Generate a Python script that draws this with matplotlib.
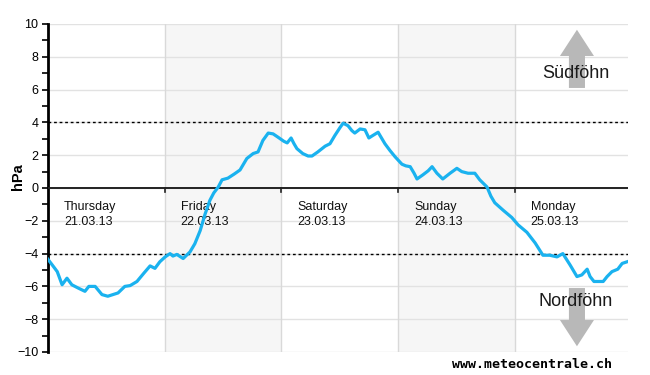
import matplotlib
matplotlib.use("Agg")
import matplotlib.pyplot as plt
from matplotlib.patches import FancyArrow
import numpy as np

# hours since Thursday 21.03.13 00:00
hours = [0.0, 1.4, 1.9, 2.9, 3.9, 4.9, 6.2, 7.6, 8.4, 9.7, 11.1, 12.3, 14.4, 15.8,
         16.9, 18.3, 19.7, 21.0, 22.0, 23.0, 24.1, 25.1, 25.7, 26.5, 27.8, 29.2,
         30.2, 31.3, 32.3, 33.3, 34.1, 35.0, 35.8, 37.0, 38.3, 39.5, 40.3, 40.9,
         42.2, 43.2, 44.2, 45.3, 46.3, 47.3, 48.5, 49.2, 50.0, 50.6, 51.2, 52.4,
         53.5, 54.3, 55.5, 57.0, 58.0, 59.0, 60.1, 60.7, 61.7, 62.5, 63.1, 64.2,
         65.2, 66.0, 66.8, 67.9, 68.7, 69.3, 70.3, 71.4, 72.8, 73.6, 74.5, 75.3,
         75.9, 77.1, 78.2, 79.0, 80.0, 81.2, 82.7, 84.1, 85.1, 86.4, 87.8, 88.8,
         90.3, 91.1, 91.9, 93.6, 95.4, 96.7, 98.5, 100.2, 101.8, 103.2, 104.7,
         105.9, 107.4, 108.8, 109.8, 110.9, 111.5, 112.3, 114.2, 115.0, 116.0,
         117.2, 118.1, 119.1]
pressure = [-4.35, -4.9, -5.1, -5.9, -5.5, -5.9, -6.1, -6.3, -6.0, -6.0, -6.5, -6.6,
            -6.4, -6.0, -5.95, -5.7, -5.2, -4.75, -4.9, -4.5, -4.2, -4.0, -4.15,
            -4.05, -4.3, -3.9, -3.4, -2.6, -1.6, -0.75, -0.3, 0.05, 0.5, 0.6, 0.85,
            1.1, 1.5, 1.8, 2.1, 2.2, 2.9, 3.35, 3.3, 3.1, 2.85, 2.75, 3.05, 2.7, 2.4,
            2.1, 1.95, 1.95, 2.2, 2.55, 2.7, 3.2, 3.7, 3.95, 3.8, 3.5, 3.35, 3.6,
            3.55, 3.05, 3.2, 3.4, 3.0, 2.7, 2.3, 1.9, 1.45, 1.35, 1.3, 0.9, 0.55,
            0.8, 1.05, 1.3, 0.9, 0.55, 0.9, 1.2, 1.0, 0.9, 0.9, 0.5, 0.06, -0.5,
            -0.9, -1.35, -1.8, -2.25, -2.7, -3.35, -4.1, -4.1, -4.2, -4.0, -4.7,
            -5.4, -5.3, -4.95, -5.4, -5.7, -5.7, -5.4, -5.1, -4.95, -4.6, -4.5]

day_names = ["Thursday", "Friday", "Saturday", "Sunday", "Monday"]
day_dates = ["21.03.13", "22.03.13", "23.03.13", "24.03.13", "25.03.13"]
shaded_days = [1, 3]
threshold = 4
y_ticks = list(range(-10, 11, 2))

fig = plt.figure(figsize=(6.5, 3.75), dpi=100)
ax = fig.add_axes([48/650, 1-352/375, (628-48)/650, (352-24)/375])
xmax = 119.3
ax.set_xlim(0, xmax)
ax.set_ylim(-10, 10)

for d in shaded_days:
    ax.axvspan(d*24, (d+1)*24, color="#f6f6f6", zorder=0, lw=0)
for yv in y_ticks:
    ax.axhline(yv, color="#e2e2e2", lw=1, zorder=1)
for d in range(1, 5):
    ax.axvline(d*24, color="#d9d9d9", lw=1, zorder=1)
    ax.plot([d*24, d*24], [0, -0.25], color="#222222", lw=1.2, zorder=3)

ax.axhline(0, color="#222222", lw=1.4, zorder=3)
ax.axhline(threshold, color="black", lw=1, ls=(0, (2, 2)), zorder=3)
ax.axhline(-threshold, color="black", lw=1, ls=(0, (2, 2)), zorder=3)

for i, (n, dt) in enumerate(zip(day_names, day_dates)):
    ax.text(i*24 + 3.3, -0.8, n + "\n" + dt, fontsize=9, va="top", ha="left",
            color="#111111", linespacing=1.35, zorder=4, family="Liberation Sans")

# Föhn arrows
ax.add_patch(FancyArrow(108.8, 6.1, 0, 3.55, width=3.3, head_width=7.0,
                        head_length=1.6, length_includes_head=True,
                        color="#b8b8b8", lw=0, zorder=2))
ax.add_patch(FancyArrow(108.8, -6.1, 0, -3.55, width=3.3, head_width=7.0,
                        head_length=1.6, length_includes_head=True,
                        color="#b8b8b8", lw=0, zorder=2))
ax.text(108.6, 7.0, "Südföhn", fontsize=13, ha="center", va="center",
        color="#1a1a1a", zorder=4, family="Liberation Sans")
ax.text(108.6, -6.95, "Nordföhn", fontsize=13, ha="center", va="center",
        color="#1a1a1a", zorder=4, family="Liberation Sans")

ax.plot(hours, pressure, color="#1ab2ef", lw=2.3, zorder=5, solid_joinstyle="round")

for s in ["top", "right", "bottom"]:
    ax.spines[s].set_visible(False)
ax.spines["left"].set_linewidth(2)
ax.spines["left"].set_color("black")
ax.set_xticks([])
ax.set_yticks(y_ticks)
ax.set_yticks(range(-9, 10, 2), minor=True)
ax.tick_params(axis="y", which="both", direction="out", length=4, width=1.2,
               labelsize=9, pad=3, colors="black")
for lab in ax.get_yticklabels():
    lab.set_family("Liberation Sans")

fig.text(18/650, 1-177/375, "hPa", rotation=90, ha="center", va="center",
         fontsize=10.5, fontweight="bold", family="Liberation Sans")

fig.text(612/650, 1-364/375, "www.meteocentrale.ch", ha="right", va="center",
         fontsize=9.5, fontweight="bold", family="DejaVu Sans Mono")

fig.savefig("out.png", dpi=100)
